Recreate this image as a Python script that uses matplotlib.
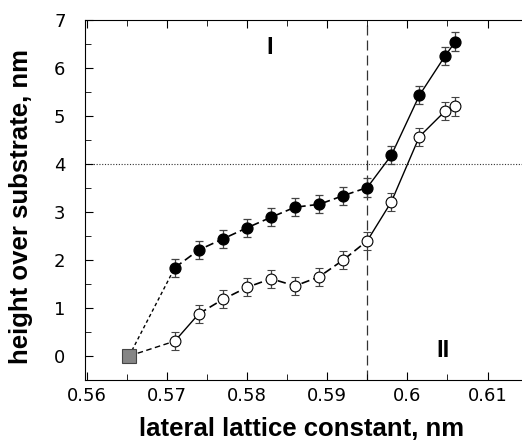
import matplotlib
matplotlib.use("Agg")
import matplotlib.pyplot as plt
import numpy as np
from matplotlib.ticker import MultipleLocator

# lattice constant, nm
a = [0.571, 0.574, 0.577, 0.580, 0.583, 0.586, 0.589, 0.592, 0.595, 0.598, 0.6015, 0.6047, 0.606]
# height, filled points
h_filled = [1.84, 2.21, 2.44, 2.67, 2.89, 3.10, 3.16, 3.34, 3.51, 4.18, 5.43, 6.25, 6.55]
# height, open points
h_open = [0.31, 0.88, 1.18, 1.43, 1.61, 1.46, 1.65, 2.00, 2.40, 3.21, 4.57, 5.10, 5.20]
err = 0.19
# substrate point
a0 = 0.5653
h0 = 0.0
a_crit = 0.595
h_crit = 4

fig = plt.figure(figsize=(5.22, 4.45), dpi=100)
ax = fig.add_axes([85/522, 65/445, 437/522, 360/445])

# connecting lines
k = a.index(a_crit)
ax.plot([a0, a[0]], [h0, h_filled[0]], color="k", lw=1, ls=(0, (2.5, 2)))
ax.plot(a[:k+1], h_filled[:k+1], color="k", lw=1.2, ls=(0, (5, 2.5)))
ax.plot(a[k:], h_filled[k:], color="k", lw=1)
ax.plot([a0, a[0]], [h0, h_open[0]], color="k", lw=1, ls=(0, (4, 2.5)))
ax.plot(a[:2], h_open[:2], color="k", lw=1)
ax.plot(a[1:k+1], h_open[1:k+1], color="k", lw=1.2, ls=(0, (5, 2.5)))
ax.plot(a[k:], h_open[k:], color="k", lw=1)

ax.errorbar(a, h_filled, yerr=err, fmt="o", color="k", ms=7.8, ecolor="#444444",
            elinewidth=0.9, capsize=2.6, capthick=0.9, zorder=3)
ax.errorbar(a, h_open, yerr=err, fmt="o", mfc="white", mec="k", mew=0.8, ms=7.8,
            ecolor="#444444", elinewidth=0.9, capsize=2.6, capthick=0.9, zorder=3)
ax.plot([a0], [h0], "s", color="#858585", mec="#444444", mew=0.8, ms=10.5, zorder=4)

ax.axvline(a_crit, color="#333333", lw=0.9, ls=(0, (8, 4)), zorder=1)
ax.axhline(h_crit, color="#333333", lw=0.8, ls=(0, (1, 1.5)), zorder=1)

ax.text(0.5828, 6.42, "I", fontsize=17, fontweight="bold", ha="center", va="center",
        family="Liberation Sans")
ax.text(0.6044, 0.12, "II", fontsize=17, fontweight="bold", ha="center", va="center",
        family="Liberation Sans")

ax.set_xlim(0.5598, 0.6143)
ax.set_ylim(-0.5, 7)
ax.xaxis.set_minor_locator(MultipleLocator(0.005))
ax.yaxis.set_major_locator(MultipleLocator(1))
ax.yaxis.set_minor_locator(MultipleLocator(0.5))
ax.set_xticks([0.56, 0.57, 0.58, 0.59, 0.60, 0.61])
ax.set_xticklabels(["0.56", "0.57", "0.58", "0.59", "0.6", "0.61"])
ax.tick_params(which="both", direction="in", top=True, right=False, labelsize=13)
ax.tick_params(axis="x", pad=5)
ax.tick_params(axis="y", pad=14)
ax.tick_params(which="major", length=6)
ax.tick_params(which="minor", length=4)
ax.spines["right"].set_visible(False)

ax.set_xlabel("lateral lattice constant, nm", fontsize=18.5, fontweight="bold",
              family="Liberation Sans")
ax.set_ylabel("height over substrate, nm", fontsize=18.5, fontweight="bold",
              family="Liberation Sans")
ax.xaxis.set_label_coords(0.4966, -0.103)
ax.yaxis.set_label_coords(-0.118, 0.483)

fig.savefig("out.png", dpi=100)
